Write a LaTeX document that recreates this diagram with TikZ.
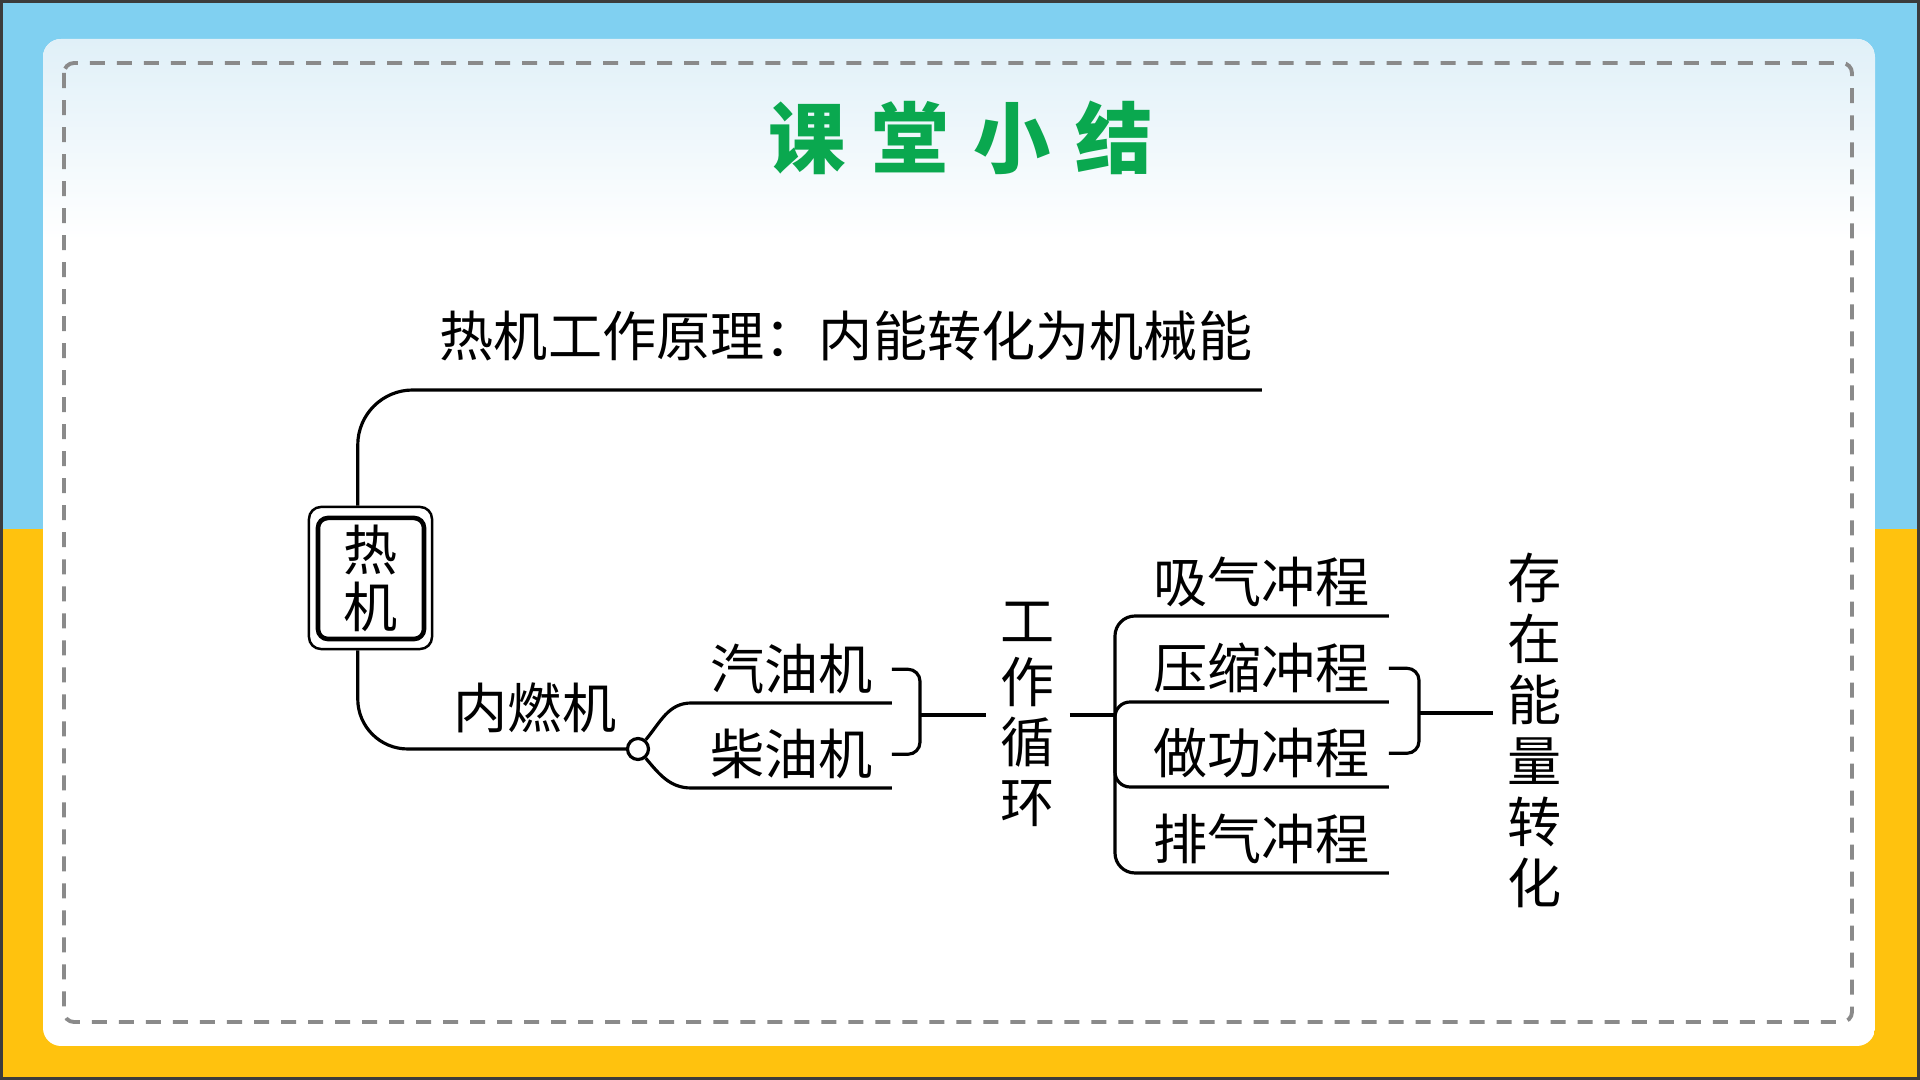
\documentclass[tikz,border=0pt]{standalone}
\usepackage{fontspec}
\newfontfamily\cjk{Noto Sans CJK SC}
\usepackage{xcolor}
\usetikzlibrary{positioning}
\definecolor{skyblue}{HTML}{80D0F1}
\definecolor{sunyellow}{HTML}{FFC20E}
\definecolor{framegray}{HTML}{3C3C3C}
\definecolor{titlegreen}{HTML}{0AA84F}
\definecolor{dashgray}{HTML}{8A8A8A}
\definecolor{cloudblue}{HTML}{E0F0F8}

\begin{document}
\begin{tikzpicture}[
    x=0.01cm, y=0.01cm,
    rootbox/.style={
        draw,
        rounded corners=0.12cm,
        minimum width=1.23cm,
        minimum height=1.42cm,
        line width=0.7pt
    },
    innerbox/.style={
        draw,
        rounded corners=0.1cm,
        minimum width=1.06cm,
        minimum height=1.21cm,
        line width=1.3pt,
        align=center,
        inner sep=0pt,
        font=\cjk\fontsize{15.4pt}{16.2pt}\selectfont
    },
    leaf/.style={
        anchor=south,
        inner sep=0pt,
        minimum width=#1,
        minimum height=0.66cm,
        font=\cjk\fontsize{15.4pt}{17pt}\selectfont
    },
    vtext/.style={
        align=center,
        inner xsep=4pt,
        inner ysep=0pt,
        font=\cjk\fontsize{15.4pt}{#1}\selectfont
    },
    link/.style={
        line width=0.9pt
    }
]
\useasboundingbox (0,0) rectangle (1920,-1080);

% Background
\fill[framegray] (0,0) rectangle (1920,-1080);
\fill[skyblue] (3,-3) rectangle (1917,-529);
\fill[sunyellow] (3,-529) rectangle (1917,-1077);
\begin{scope}
    \clip[rounded corners=0.18cm] (43,-39) rectangle (1875,-1046);
    \fill[white] (43,-39) rectangle (1875,-1046);
    \shade[top color=cloudblue, bottom color=white] (43,-39) rectangle (1875,-240);
\end{scope}
\draw[dashgray, line width=1.1pt, dash pattern=on 0.15cm off 0.12cm, rounded corners=0.1cm] (64,-63) rectangle (1852,-1022);

% Title
\node (title) at (961,-138) [font=\cjk\bfseries\fontsize{22pt}{22pt}\selectfont, text=titlegreen] {课\hspace{7.1pt}堂\hspace{7.1pt}小\hspace{7.1pt}结};

% Root
\node (root) at (370.5,-578) [rootbox] {};
\node (rootin) at (371,-578.5) [innerbox] {热\\机};

% Upper branch
\node (rule) at (846,-390) [leaf=8.3cm, minimum height=1.06cm] {热机工作原理：内能转化为机械能};

% Lower branch
\node (hub) at (638,-749) [circle, draw, line width=0.9pt, minimum size=0.21cm, inner sep=0pt] {};
\node (ice) at (535,-708) [font=\cjk\fontsize{15.4pt}{17pt}\selectfont] {内燃机};
\node (gas) at (791.5,-703) [leaf=1.99cm] {汽油机};
\node (diesel) at (791.5,-788) [leaf=1.99cm] {柴油机};

% Working cycle
\node (cycle) at (1028,-714.5) [vtext=17.1pt] {工\\作\\循\\环};
\node (s1) at (1261.5,-616) [leaf=2.53cm] {吸气冲程};
\node (s2) at (1261.5,-702) [leaf=2.53cm] {压缩冲程};
\node (s3) at (1261.5,-787) [leaf=2.53cm] {做功冲程};
\node (s4) at (1261.5,-873) [leaf=2.53cm] {排气冲程};
\node (energy) at (1535,-730) [vtext=17.35pt] {存\\在\\能\\量\\转\\化};

% Junctions
\coordinate (gb) at (920,-715);
\coordinate (tj) at (1115,-715);
\coordinate (eb) at (1419,-713);

% Connectors
\draw [link, rounded corners=0.55cm] (root.100) |- (rule.south east);
\draw [link, rounded corners=0.5cm] (root.260) |- (hub.west);
\draw [link] (hub.50) to[out=50, in=180] (gas.south west) -- (gas.south east);
\draw [link] (hub.-50) to[out=-50, in=180] (diesel.south west) -- (diesel.south east);
\draw [link, rounded corners=0.12cm] (gas.east) -| (gb) |- (diesel.east);
\draw [link] (gb) -- (cycle.west |- gb);
\draw [link] (cycle.east |- tj) -- (tj);
\draw [link, rounded corners=0.2cm] (s1.south east) -| (tj) |- (s4.south east);
\draw [link, rounded corners=0.15cm] (s2.south east) -- (s2.south east -| tj) -- (s3.south east -| tj) -- (s3.south east);
\draw [link, rounded corners=0.12cm] (s2.east) -| (eb) |- (s3.east);
\draw [link] (eb) -- (energy.west |- eb);

\end{tikzpicture}
\end{document}
